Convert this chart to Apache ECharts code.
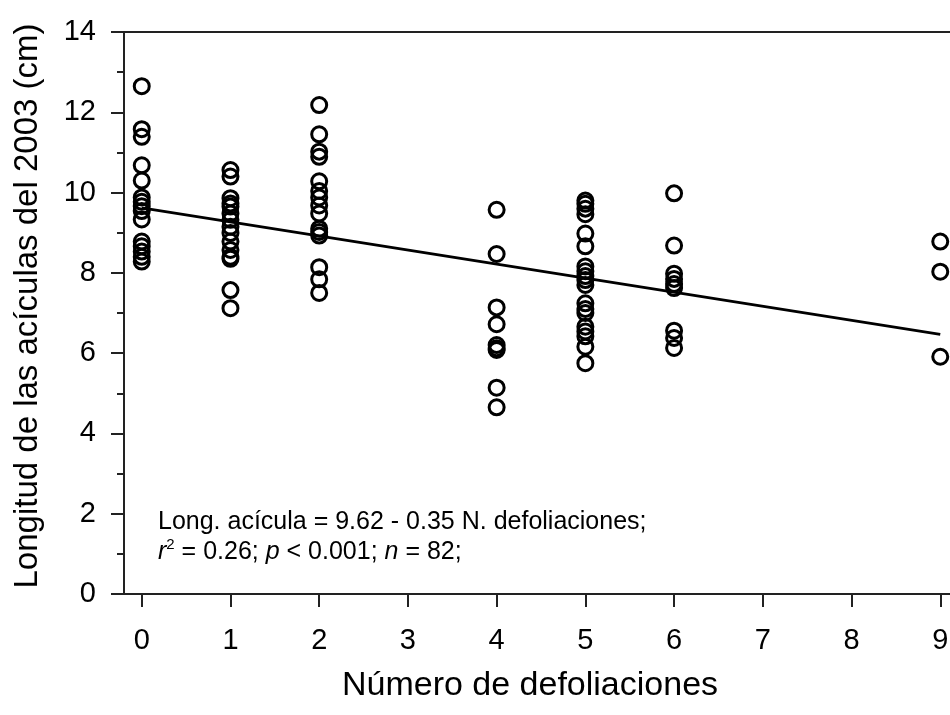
<!DOCTYPE html>
<html>
<head>
<meta charset="utf-8">
<script src="https://cdn.jsdelivr.net/npm/echarts@6/dist/echarts.min.js"></script>
<style>html,body{margin:0;padding:0;background:#fff}#c{width:950px;height:715px}</style>
</head>
<body>
<div id="c"></div>
<script>
// Data
var xTicks = [0, 1, 2, 3, 4, 5, 6, 7, 8, 9];
var defol0 = [12.65, 11.58, 11.39, 10.68, 10.3, 9.88, 9.77, 9.66, 9.54, 9.33, 8.78, 8.66, 8.53, 8.4, 8.28];
var defol1 = [10.56, 10.4, 9.86, 9.73, 9.65, 9.48, 9.32, 9.15, 8.99, 8.78, 8.57, 8.4, 8.35, 7.57, 7.12];
var defol2 = [12.18, 11.45, 11.02, 10.89, 10.28, 10.04, 9.88, 9.68, 9.48, 9.1, 9.02, 8.93, 8.14, 7.84, 7.5];
var defol4 = [9.57, 8.47, 7.14, 6.72, 6.2, 6.12, 6.08, 5.14, 4.65];
var defol5 = [9.8, 9.72, 9.6, 9.46, 8.98, 8.66, 8.16, 8.04, 7.92, 7.82, 7.7, 7.24, 7.1, 7.0, 6.66, 6.54, 6.42, 6.16, 5.75];
var defol6 = [9.98, 8.68, 7.98, 7.85, 7.72, 7.62, 6.56, 6.38, 6.13];
var defol9 = [8.78, 8.03, 5.91];
var groupX = [0, 1, 2, 4, 5, 6, 9];
var groupY = [defol0, defol1, defol2, defol4, defol5, defol6, defol9];
var fitX = [0, 9];
var fitY = [9.62, 6.47];

var points = [];
groupX.forEach(function (gx, i) {
  groupY[i].forEach(function (v) { points.push([gx, v]); });
});
var fitLine = fitX.map(function (x, i) { return [x, fitY[i]]; });

var FONT = '"Liberation Sans", Arial, sans-serif';
var AX = '#222';

var chart = echarts.init(document.getElementById('c'), null, {renderer: 'canvas'});
chart.setOption({
  animation: false,
  backgroundColor: '#fff',
  grid: {left: 124, top: 32, width: 834, height: 562, outerBoundsMode: 'none', containLabel: false,
         show: true, borderColor: AX, borderWidth: 2, backgroundColor: 'transparent'},
  xAxis: {
    type: 'value', min: -0.2, max: 9.2,
    name: 'Número de defoliaciones', nameLocation: 'middle', nameGap: 75,
    nameTextStyle: {fontFamily: FONT, fontSize: 34, color: '#000', padding: [0, 22, 0, 0]},
    axisLine: {show: true, onZero: false, lineStyle: {color: AX, width: 2}},
    axisTick: {show: true, length: 13, lineStyle: {color: AX, width: 2}, customValues: xTicks},
    axisLabel: {show: true, margin: 32, fontFamily: FONT, fontSize: 29, color: '#000', customValues: xTicks},
    splitLine: {show: false}
  },
  yAxis: {
    type: 'value', min: 0, max: 14, interval: 2,
    name: 'Longitud de las acículas del 2003 (cm)', nameLocation: 'middle', nameGap: 80, nameRotate: 90,
    nameTextStyle: {fontFamily: FONT, fontSize: 33, color: '#000', padding: [0, 0, 0, 14]},
    axisLine: {show: true, onZero: false, lineStyle: {color: AX, width: 2}},
    axisTick: {show: true, length: 13, lineStyle: {color: AX, width: 2}},
    minorTick: {show: true, splitNumber: 2, length: 7, lineStyle: {color: AX, width: 2}},
    axisLabel: {show: true, margin: 28, fontFamily: FONT, fontSize: 29, color: '#000'},
    splitLine: {show: false}, minorSplitLine: {show: false}
  },
  series: [
    {
      type: 'line', data: fitLine, symbol: 'none', silent: true,
      lineStyle: {color: '#000', width: 2.8}, z: 2
    },
    {
      type: 'scatter', data: points, symbol: 'circle', symbolSize: 15,
      itemStyle: {color: 'rgba(0,0,0,0)', borderColor: '#000', borderWidth: 3, opacity: 1}, z: 3
    }
  ],
  graphic: [
    {
      type: 'text', left: 158, top: 507,
      style: {
        text: 'Long. acícula = 9.62 - 0.35 N. defoliaciones;\n{i|r}{s|2} = 0.26; {i|p} < 0.001; {i|n} = 82;',
        fontFamily: FONT, fontSize: 25, fill: '#000', lineHeight: 30,
        rich: {
          i: {fontFamily: FONT, fontSize: 25, fontStyle: 'italic', fill: '#000', lineHeight: 30},
          s: {fontFamily: FONT, fontSize: 15, fill: '#000', verticalAlign: 'top', padding: [0, 0, 12, 0], lineHeight: 30}
        }
      }
    }
  ]
});
</script>
</body>
</html>
